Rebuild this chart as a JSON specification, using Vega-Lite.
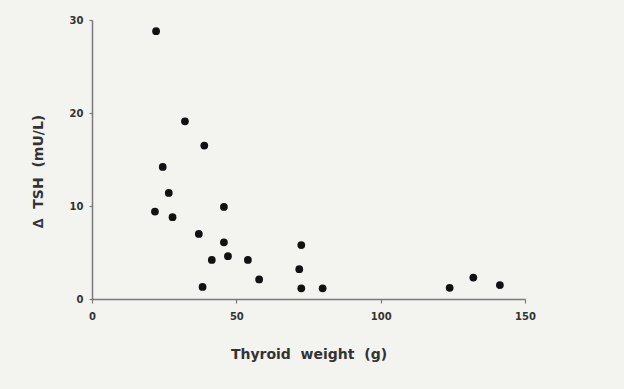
{
  "$schema": "https://vega.github.io/schema/vega-lite/v6.json",
  "autosize": {"type": "none"},
  "padding": {"left": 92, "top": 20, "right": 99, "bottom": 90},
  "width": 433,
  "height": 279,
  "background": "#f3f3f0",
  "config": {"view": {"stroke": null}, "font": "DejaVu Sans"},
  "data": {"values": [
    {"weight": 22.2, "tsh": 28.8},
    {"weight": 32.2, "tsh": 19.1},
    {"weight": 38.9, "tsh": 16.5},
    {"weight": 24.5, "tsh": 14.2},
    {"weight": 26.6, "tsh": 11.4},
    {"weight": 21.8, "tsh": 9.4},
    {"weight": 27.9, "tsh": 8.8},
    {"weight": 37.0, "tsh": 7.0},
    {"weight": 45.7, "tsh": 9.9},
    {"weight": 45.7, "tsh": 6.1},
    {"weight": 47.1, "tsh": 4.6},
    {"weight": 41.5, "tsh": 4.2},
    {"weight": 54.0, "tsh": 4.2},
    {"weight": 38.3, "tsh": 1.3},
    {"weight": 57.9, "tsh": 2.1},
    {"weight": 72.5, "tsh": 5.8},
    {"weight": 71.8, "tsh": 3.2},
    {"weight": 72.5, "tsh": 1.15},
    {"weight": 79.9, "tsh": 1.15},
    {"weight": 123.9, "tsh": 1.2},
    {"weight": 132.1, "tsh": 2.3},
    {"weight": 141.3, "tsh": 1.5}
  ]},
  "mark": {"type": "circle", "size": 60, "color": "#111111", "opacity": 1},
  "encoding": {
    "x": {
      "field": "weight", "type": "quantitative",
      "scale": {"domain": [0, 150], "nice": false, "zero": true},
      "axis": {
        "values": [0, 50, 100, 150], "grid": false, "labelFlush": false,
        "title": "Thyroid\u00a0 weight\u00a0 (g)",
        "titleFont": "DejaVu Sans", "titleFontSize": 14, "titleFontWeight": "bold", "titleColor": "#333333",
        "titlePadding": 26,
        "labelFontSize": 10, "labelFontWeight": "bold", "labelColor": "#333333", "labelPadding": 8,
        "domainColor": "#7a7a7a", "domainWidth": 1.5,
        "tickColor": "#7a7a7a", "tickSize": 4, "tickWidth": 1.2
      }
    },
    "y": {
      "field": "tsh", "type": "quantitative",
      "scale": {"domain": [0, 30], "nice": false},
      "axis": {
        "values": [0, 10, 20, 30], "grid": false, "labelFlush": false,
        "title": "∆\u00a0 TSH\u00a0 (mU/L)",
        "titleFont": "DejaVu Sans", "titleFontSize": 14, "titleFontWeight": "bold", "titleColor": "#333333",
        "titlePadding": 24, "titleY": 151,
        "labelFontSize": 10, "labelFontWeight": "bold", "labelColor": "#333333", "labelPadding": 6,
        "domainColor": "#7a7a7a", "domainWidth": 1.5,
        "tickColor": "#7a7a7a", "tickSize": 3, "tickWidth": 1.2
      }
    }
  }
}
